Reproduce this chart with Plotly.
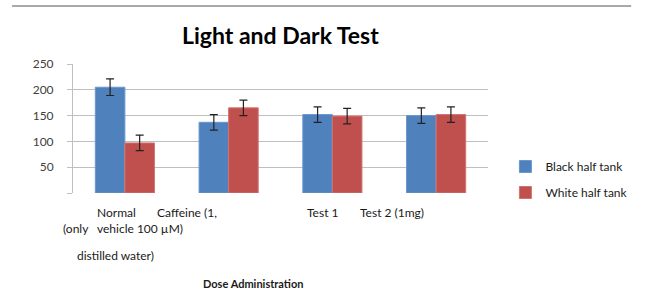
import plotly.graph_objects as go

categories = ["Normal", "Caffeine", "Test 1", "Test 2"]
black_vals = [205, 137, 152, 150]
black_err = [16, 15, 15, 15]
white_vals = [97, 165, 149, 152]
white_err = [15, 15, 15, 15]
series_names = ["Black half tank", "White half tank"]
tick_vals = [0, 50, 100, 150, 200, 250]
tick_text = ["", "50", "100", "150", "200", "250"]

W, H = 645, 290
L, R, T, B = 73, 143, 64, 97
pw, ph = W - L - R, H - T - B

def px(x):
    return (x - L) / pw

def py(y):
    return (H - B - y) / ph

FONT = "Lato, 'Open Sans', sans-serif"
BLUE = "#4f81bd"
RED = "#c0504d"

fig = go.Figure()
fig.add_trace(go.Bar(
    x=categories, y=black_vals, name=series_names[0], legendgroup="a",
    marker=dict(color=BLUE, line=dict(color="#6a97cf", width=1)),
    error_y=dict(type="data", array=black_err, color="#222222", thickness=1.2, width=4),
))
fig.add_trace(go.Bar(
    x=categories, y=white_vals, name=series_names[1], legendgroup="b",
    marker=dict(color=RED, line=dict(color="#d27270", width=1)),
    error_y=dict(type="data", array=white_err, color="#222222", thickness=1.2, width=4),
))

annos = [
    ("Normal", 118, 212),
    ("(only", 76, 228),
    ("vehicle 100 µM)", 142, 228),
    ("Caffeine (1,", 191, 212),
    ("distilled water)", 117, 255),
    ("Test 1", 331, 212),
    ("Test 2 (1mg)", 403, 212),
]
annotations = []
for text, x, y in annos:
    annotations.append(dict(text=text, x=px(x), y=py(y), xref="paper", yref="paper",
                            showarrow=False, xanchor="center", yanchor="middle",
                            font=dict(family=FONT, size=12, color="#1a1a1a")))
annotations.append(dict(text="<b>Dose Administration</b>", x=px(259), y=py(283), xref="paper", yref="paper",
                        showarrow=False, xanchor="center", yanchor="middle",
                        font=dict(family=FONT, size=11, color="#1a1a1a")))
annotations.append(dict(text="<b>Light and Dark Test</b>", x=px(287), y=py(35), xref="paper", yref="paper",
                        showarrow=False, xanchor="center", yanchor="middle",
                        font=dict(family=FONT, size=23, color="#000000")))

fig.update_layout(
    width=W, height=H,
    margin=dict(l=L, r=R, t=T, b=B, pad=0),
    paper_bgcolor="white", plot_bgcolor="white",
    barmode="group", bargap=0.43, bargroupgap=0,
    font=dict(family=FONT, size=12, color="#404040"),
    showlegend=True,
    legend=dict(x=px(520), y=py(152), xanchor="left", yanchor="top",
                font=dict(family=FONT, size=12, color="#1a1a1a"),
                tracegroupgap=7, bgcolor="rgba(0,0,0,0)"),
    annotations=annotations,
    shapes=[dict(type="line", xref="paper", yref="paper", x0=px(10), x1=px(650), y0=py(6), y1=py(6),
                 line=dict(color="#8c8c8c", width=1.5))],
)
fig.update_xaxes(showticklabels=False, showgrid=False, showline=False, ticks="", zeroline=False)
fig.update_yaxes(range=[0, 250], tickvals=tick_vals, ticktext=tick_text,
                 showgrid=True, gridcolor="#bfbfbf", gridwidth=1,
                 showline=True, linecolor="#bfbfbf", linewidth=1,
                 ticks="outside", ticklen=5, tickcolor="#bfbfbf",
                 zeroline=False, ticklabelstandoff=11,
                 tickfont=dict(family=FONT, size=12, color="#404040"))

fig.write_html("out.html", config={"displayModeBar": False},
               post_script="document.body.style.margin='0';document.body.style.overflow='hidden';")
